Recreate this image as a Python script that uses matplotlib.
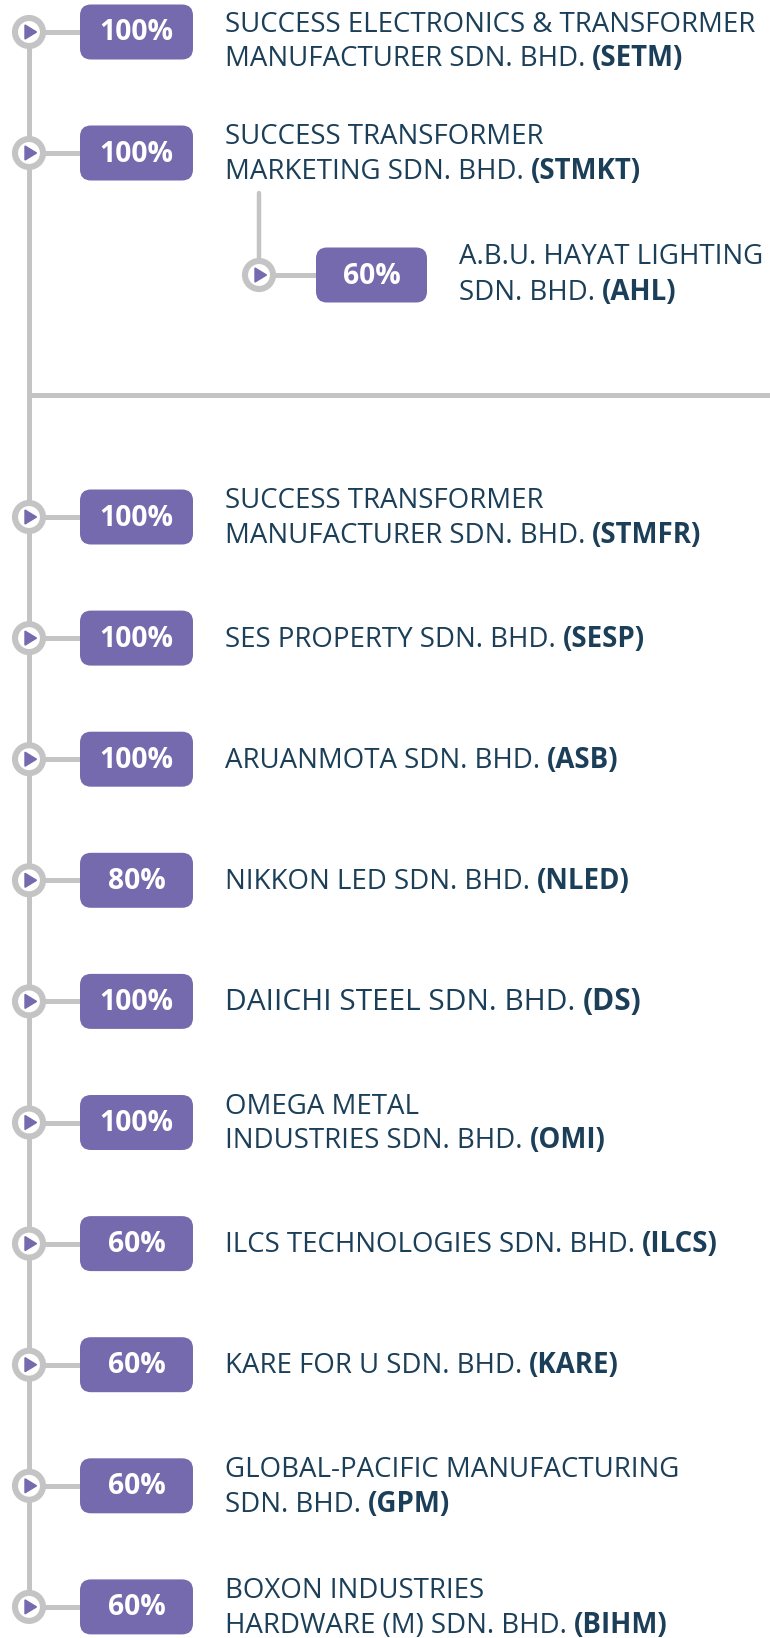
import matplotlib
matplotlib.use("Agg")
import matplotlib.pyplot as plt
from matplotlib.patches import FancyBboxPatch, Circle, Polygon

# --- data ---------------------------------------------------------------
top_names = [
    ["SUCCESS ELECTRONICS & TRANSFORMER", "MANUFACTURER SDN. BHD."],
    ["SUCCESS TRANSFORMER", "MARKETING SDN. BHD."],
]
top_codes = ["SETM", "STMKT"]
top_pcts = ["100%", "100%"]

sub_name = ["A.B.U. HAYAT LIGHTING", "SDN. BHD."]
sub_code = "AHL"
sub_pct = "60%"

low_names = [
    ["SUCCESS TRANSFORMER", "MANUFACTURER SDN. BHD."],
    ["SES PROPERTY SDN. BHD."],
    ["ARUANMOTA SDN. BHD."],
    ["NIKKON LED SDN. BHD."],
    ["DAIICHI STEEL SDN. BHD."],
    ["OMEGA METAL", "INDUSTRIES SDN. BHD."],
    ["ILCS TECHNOLOGIES SDN. BHD."],
    ["KARE FOR U SDN. BHD."],
    ["GLOBAL-PACIFIC MANUFACTURING", "SDN. BHD."],
    ["BOXON INDUSTRIES", "HARDWARE (M) SDN. BHD."],
]
low_codes = ["STMFR", "SESP", "ASB", "NLED", "DS", "OMI", "ILCS", "KARE", "GPM", "BIHM"]
low_pcts = ["100%", "100%", "100%", "80%", "100%", "100%", "60%", "60%", "60%", "60%"]

# --- style --------------------------------------------------------------
PURPLE = "#746aad"
GREY = "#c4c4c4"
NAVY = "#1b3f58"
FONT = "Open Sans"
W, H = 770, 1638

fig = plt.figure(figsize=(W / 100, H / 100), dpi=100)
ax = fig.add_axes([0, 0, 1, 1])
ax.set_xlim(0, W)
ax.set_ylim(H, 0)
ax.axis("off")

spine_x = 29
top_y = [32, 153]
low_y = [517 + i * 121.1 for i in range(len(low_names))]
lw = 3.6


def node(x, y, pct, lines, code, badge_x, bw=113, size=19.9, shift=1.5):
    # connector + ring + triangle
    ax.plot([x, badge_x + 5], [y, y], color=GREY, lw=lw, solid_capstyle="butt", zorder=1)
    ax.add_patch(Circle((x, y), 14, facecolor="white", edgecolor=GREY, lw=4.4, zorder=3))
    ax.add_patch(Polygon([(x - 4, y - 7), (x - 4, y + 7), (x + 7.5, y)],
                         closed=True, color=PURPLE, zorder=4))
    # badge
    ax.add_patch(FancyBboxPatch((badge_x, y - 27.5), bw, 55,
                                boxstyle="round,pad=0,rounding_size=11",
                                facecolor=PURPLE, edgecolor="none", zorder=3))
    ax.text(badge_x + bw / 2, y + 1, pct, color="white", fontsize=20.3, fontweight="bold",
            family=FONT, ha="center", va="center", zorder=5)
    # label
    tx = badge_x + bw + 32
    n = len(lines)
    for k, ln in enumerate(lines):
        ly = y + shift + (k - (n - 1) / 2) * 35
        t = ax.text(tx, ly, ln, color=NAVY, fontsize=size, family=FONT,
                    ha="left", va="center", zorder=5)
        if k == n - 1:
            ax.annotate("(" + code + ")", xy=(1, 0), xycoords=t,
                        xytext=(5, 0), textcoords="offset points",
                        color=NAVY, fontsize=size, fontweight="bold", family=FONT,
                        ha="left", va="bottom", zorder=5)


# spine and divider
ax.plot([spine_x, spine_x], [top_y[0], low_y[-1]], color=GREY, lw=lw, zorder=1)
ax.plot([spine_x, W], [395, 395], color=GREY, lw=lw, solid_capstyle="butt", zorder=1)

# sub branch under STMKT
ax.plot([259, 259], [193, 275], color=GREY, lw=3.2, solid_capstyle="round", zorder=1)

fig.canvas.draw()
for i, (y, pct, lines, code) in enumerate(zip(top_y, top_pcts, top_names, top_codes)):
    node(spine_x, y, pct, lines, code, 80, shift=10 if i == 0 else 1.5)
node(259, 275, sub_pct, sub_name, sub_code, 316, bw=111, shift=0)
for y, pct, lines, code in zip(low_y, low_pcts, low_names, low_codes):
    node(spine_x, y, pct, lines, code, 80, size=21.5 if code == "DS" else 19.9)

fig.savefig("out.png", dpi=100, facecolor="white")
